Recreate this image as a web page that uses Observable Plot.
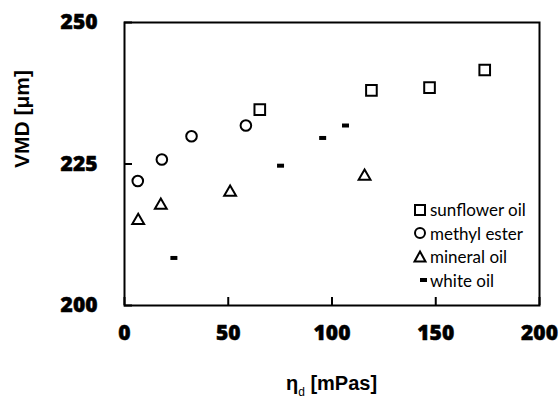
<!DOCTYPE html>
<html>
<head>
<meta charset="utf-8">
<script src="https://cdn.jsdelivr.net/npm/d3@7"></script>
<script src="https://cdn.jsdelivr.net/npm/@observablehq/plot@0.6"></script>
<style>
  body { margin: 0; background: #fff; }
  #wrap { position: relative; width: 560px; height: 398px; overflow: hidden; }
  #xtitle { position: absolute; left: 0; width: 663px; text-align: center; top: 372px;
            font-family: "Liberation Sans", Arial, sans-serif; font-weight: bold; font-size: 20px; color: #000; }
  #xtitle sub { font-size: 12px; font-weight: normal; vertical-align: -6px; line-height: 0; }
  #legend { position: absolute; left: 412px; top: 198px; font-family: Lato, "Open Sans", sans-serif; font-size: 17px; color: #000; }
  #legend .row { height: 23.5px; display: flex; align-items: center; }
  #legend svg { width: 16px; height: 16px; margin-right: 2px; }
</style>
</head>
<body>
<div id="wrap"></div>
<script>
// ---- data ----
const sunflowerX = [65.2, 119.0, 147.0, 173.6];
const sunflowerY = [234.6, 238.0, 238.5, 241.6];
const methylX = [6.4, 18.0, 32.3, 58.5];
const methylY = [222.0, 225.8, 229.9, 231.8];
const mineralX = [6.6, 17.5, 50.9, 115.7];
const mineralY = [215.0, 217.7, 220.0, 222.8];
const whiteX = [23.8, 75.2, 95.5, 106.5];
const whiteY = [208.4, 224.7, 229.6, 231.8];
const seriesNames = ["sunflower oil", "methyl ester", "mineral oil", "white oil"];
const xTicks = [0, 50, 100, 150, 200];
const yTicks = [200, 225, 250];
const yTitle = "VMD [μm]";

const toRows = (xs, ys) => xs.map((x, i) => ({x, y: ys[i]}));

const dashSymbol = {
  draw(context, size) {
    const w = 7, h = 4;
    context.rect(-w / 2, -h / 2, w, h);
  }
};

const tickFont = {fontSize: 21, fontWeight: 800, fontFamily: "Open Sans", fill: "#000", stroke: "#000", strokeWidth: 0.5};

const plot = Plot.plot({
  width: 560,
  height: 398,
  marginLeft: 124,
  marginRight: 21,
  marginTop: 22,
  marginBottom: 93,
  style: {background: "#fff", color: "#000"},
  x: {domain: [0, 200]},
  y: {domain: [200, 250]},
  marks: [
    Plot.axisX({ticks: xTicks, tickSize: -8, strokeWidth: 2, tickFormat: () => "", label: null}),
    Plot.axisY({ticks: yTicks, tickSize: -8, strokeWidth: 2, tickFormat: () => "", label: null}),
    Plot.text(xTicks, {x: d => d, frameAnchor: "bottom", dy: 34, text: d => String(d), ...tickFont}),
    Plot.text(yTicks, {y: d => d, frameAnchor: "left", dx: -27, textAnchor: "end", text: d => String(d), ...tickFont}),
    Plot.frame({stroke: "#000", strokeWidth: 2}),
    Plot.dot(toRows(sunflowerX, sunflowerY), {x: "x", y: "y", symbol: "square", r: 6, stroke: "#000", strokeWidth: 2}),
    Plot.dot(toRows(methylX, methylY), {x: "x", y: "y", symbol: "circle", r: 5.3, stroke: "#000", strokeWidth: 2}),
    Plot.dot(toRows(mineralX, mineralY), {x: "x", y: "y", symbol: "triangle", r: 4.4, stroke: "#000", strokeWidth: 2}),
    Plot.dot(toRows(whiteX, whiteY), {x: "x", y: "y", symbol: dashSymbol, r: 4, fill: "#000", stroke: "none"}),
    Plot.text([yTitle], {text: d => d, frameAnchor: "left", rotate: -90, dx: -102, dy: 4,
      fontSize: 21, fontWeight: "bold", fontFamily: "Liberation Sans, Arial, sans-serif"})
  ]
});

const wrap = document.getElementById("wrap");
wrap.appendChild(plot);

const xt = document.createElement("div");
xt.id = "xtitle";
xt.innerHTML = "η<sub>d</sub> [mPas]";
wrap.appendChild(xt);

const icons = [
  '<rect x="3" y="3" width="10" height="10" fill="none" stroke="#000" stroke-width="2"/>',
  '<circle cx="8" cy="8" r="5" fill="none" stroke="#000" stroke-width="2"/>',
  '<path d="M8,2.5 L13.5,12.5 L2.5,12.5 Z" fill="none" stroke="#000" stroke-width="2" stroke-linejoin="miter"/>',
  '<rect x="8" y="6" width="7" height="4" fill="#000"/>'
];
const lg = document.createElement("div");
lg.id = "legend";
seriesNames.forEach((name, i) => {
  const row = document.createElement("div");
  row.className = "row";
  row.innerHTML = `<svg viewBox="0 0 16 16">${icons[i]}</svg><span>${name}</span>`;
  lg.appendChild(row);
});
wrap.appendChild(lg);
</script>
</body>
</html>
